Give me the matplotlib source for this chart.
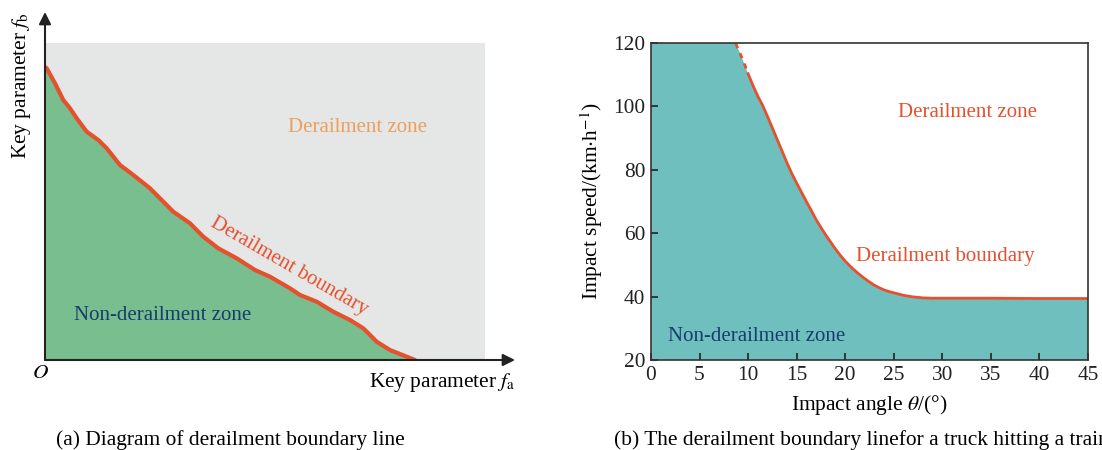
import numpy as np
import matplotlib.pyplot as plt

plt.rcParams['font.family'] = ['Liberation Serif', 'DejaVu Serif']
plt.rcParams['mathtext.fontset'] = 'stix'

# (a) schematic boundary, arbitrary units
fa = [0, 1.7, 10, 18.3, 25, 31.7, 41.7, 53.3, 61.7, 75, 88.3, 105, 115, 128.3,
      145, 158.3, 173.3, 191.7, 210, 225, 245, 255, 271.7, 288.3, 305, 318.3,
      331.7, 345, 361.7, 370]
fb = [293, 291.7, 276.7, 260, 251.7, 241.7, 228.3, 220, 211.7, 195, 185,
      171.7, 161.7, 148.3, 136.7, 123.3, 111.7, 101.7, 90, 83.3, 71.7, 65,
      58.3, 48.3, 40, 31.7, 18.3, 10, 3.3, 0]
zone_w, zone_h = 440, 317

# (b) truck impact boundary
theta = [8.7, 9.0, 9.5, 10.0, 10.5, 11.0, 11.5, 12.0, 12.5, 13.0, 13.5, 14.0,
         14.5, 15.0, 15.5, 16.0, 16.5, 17.0, 17.5, 18.0, 18.5, 19.0, 19.5,
         20.0, 20.5, 21.0, 21.5, 22.0, 22.5, 23.0, 23.5, 24.0, 24.5, 25.0,
         26.0, 27.0, 28.0, 29.0, 30.0, 35.0, 40.0, 45.0]
speed = [120, 118, 114.3, 110.3, 106.6, 103.2, 100.3, 96.8, 93.2, 89.5, 85.9,
         82.2, 78.8, 75.8, 72.9, 70.0, 67.2, 64.3, 61.8, 59.4, 57.2, 55.0,
         53.0, 51.2, 49.6, 48.2, 46.9, 45.7, 44.6, 43.6, 42.8, 42.1, 41.6,
         41.2, 40.4, 39.9, 39.6, 39.5, 39.5, 39.5, 39.4, 39.4]

red = '#E5502E'
fs = 15
fs2 = 15.4

fig = plt.figure(figsize=(11.02, 4.5), dpi=100)

# ---- panel (a)
ax1 = fig.add_axes([45/1102, 90/450, 470/1102, 348/450])
ax1.set_xlim(0, 470)
ax1.set_ylim(0, 348)
for s in ax1.spines.values():
    s.set_visible(False)
ax1.set_xticks([])
ax1.set_yticks([])
ax1.add_patch(plt.Rectangle((0, 0), zone_w, zone_h, color='#E5E6E6', lw=0))
ax1.fill_between(fa, 0, fb, color='#78BE8F', lw=0)
ax1.plot(fa, fb, color=red, lw=3, solid_capstyle='round',
         solid_joinstyle='round')
ax1.annotate('', xy=(470, 0), xytext=(0, 0),
             arrowprops=dict(arrowstyle='-|>', color='#222222', lw=1.5,
                             mutation_scale=18, shrinkA=0, shrinkB=0))
ax1.annotate('', xy=(0, 348), xytext=(0, 0),
             arrowprops=dict(arrowstyle='-|>', color='#222222', lw=1.5,
                             mutation_scale=18, shrinkA=0, shrinkB=0))
ax1.text(313, 233, 'Derailment zone', color='#EBA05E', fontsize=fs,
         ha='center', va='center')
ax1.text(118, 45, 'Non-derailment zone', color='#173E6A', fontsize=fs,
         ha='center', va='center')
ax1.text(244, 94, 'Derailment boundary', color=red, fontsize=fs,
         ha='center', va='center', rotation=-30, rotation_mode='anchor')
ax1.text(-5, -13, '$O$', fontsize=fs2, ha='center', va='center', clip_on=False)
ax1.text(470, -23, r'Key parameter $f_\mathrm{a}$', fontsize=fs2,
         ha='right', va='center', clip_on=False)
ax1.text(-23, 348, r'Key parameter $f_\mathrm{b}$', fontsize=fs2,
         ha='center', va='top', rotation=90, clip_on=False)

# ---- panel (b)
ax2 = fig.add_axes([651/1102, 90/450, 437/1102, 317/450])
ax2.set_xlim(0, 45)
ax2.set_ylim(20, 120)
# safe region: everything under the boundary (full height left of it)
ax2.fill([0] + theta + [theta[-1], 0], [120] + speed + [20, 20],
         color='#6FBFBF', lw=0)
ax2.plot(theta[:4], speed[:4], color=red, lw=2, ls=(0, (2, 2)))
ax2.plot(theta[3:], speed[3:], color=red, lw=2, solid_joinstyle='round')
ax2.set_xticks(np.arange(0, 46, 5))
ax2.set_yticks(np.arange(20, 121, 20))
ax2.tick_params(direction='in', length=5, width=1.2, labelsize=fs2,
                colors='#222222', pad=4)
for s in ax2.spines.values():
    s.set_linewidth(1.2)
    s.set_color('#333333')
ax2.set_xlabel(r'Impact angle $\theta$/(°)', fontsize=fs2, labelpad=6)
ax2.set_ylabel(r'Impact speed/(km$\cdot$h$^{-1}$)', fontsize=fs2, labelpad=6)
ax2.text(32.6, 98, 'Derailment zone', color=red, fontsize=fs,
         ha='center', va='center')
ax2.text(30.3, 52.6, 'Derailment boundary', color=red, fontsize=fs,
         ha='center', va='center')
ax2.text(10.9, 27.3, 'Non-derailment zone', color='#173E6A', fontsize=fs,
         ha='center', va='center')

fig.text(230/1102, 1 - 440/450, '(a) Diagram of derailment boundary line',
         fontsize=fs2, ha='center', va='center')
fig.text(614/1102, 1 - 440/450,
         '(b) The derailment boundary linefor a truck hitting a train',
         fontsize=fs2, ha='left', va='center')

fig.savefig('out.png', dpi=100)
